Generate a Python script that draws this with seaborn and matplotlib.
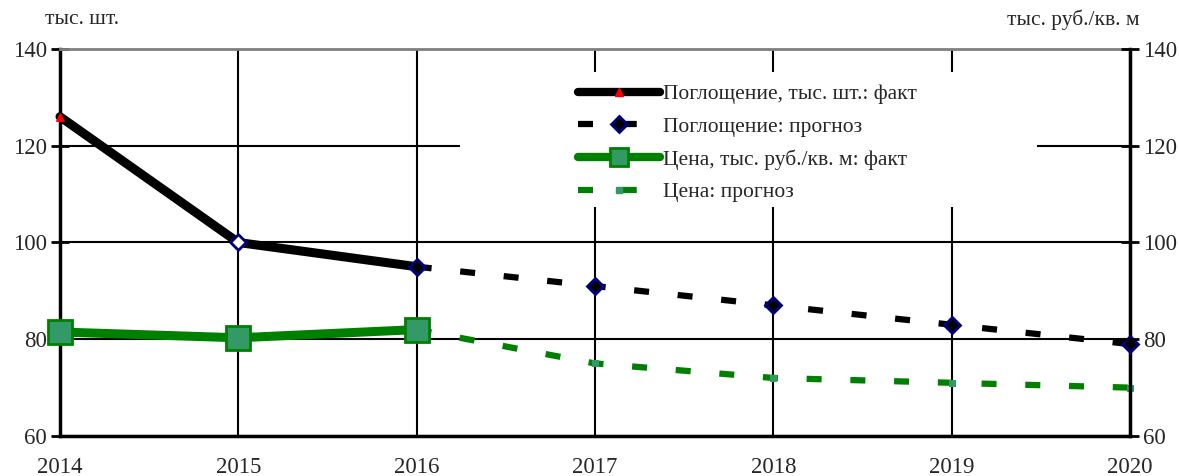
import matplotlib
matplotlib.use("Agg")
import matplotlib.pyplot as plt
import seaborn as sns
from matplotlib.lines import Line2D
from matplotlib.patches import Rectangle

# data
years_fact = [2014, 2015, 2016]
years_fc = [2016, 2017, 2018, 2019, 2020]
absorb_fact = [126, 100, 95]
absorb_fc = [95, 91, 87, 83, 79]
price_fact = [81.5, 80.3, 82]
price_fc = [82, 75, 72, 71, 70]
year_ticks = [2014, 2015, 2016, 2017, 2018, 2019, 2020]
y_ticks = [60, 80, 100, 120, 140]

labels = ["Поглощение, тыс. шт.: факт", "Поглощение: прогноз",
          "Цена, тыс. руб./кв. м: факт", "Цена: прогноз"]

sns.set_style("white")
plt.rcParams["font.family"] = ["Liberation Serif", "DejaVu Serif"]
plt.rcParams["font.size"] = 15.5

fig = plt.figure(figsize=(11.79, 4.76), dpi=100)
ax = fig.add_axes([60 / 1179, 1 - 436 / 476, 1070 / 1179, 387 / 476])

ax.set_axisbelow(True)
ax.grid(True, color="black", linewidth=1.5)
ax.add_patch(Rectangle((0.374, 0.592), 0.539, 0.349, transform=ax.transAxes,
                       facecolor="white", edgecolor="none", zorder=1))

green = "#008000"
sea = "#339966"
navy = "#000080"
dash = (0, (2.4, 4.6))

sns.lineplot(x=years_fact, y=absorb_fact, ax=ax, color="black", linewidth=6.5,
             marker="^", markevery=[0], markersize=6, markerfacecolor="red",
             markeredgecolor="red", zorder=3, clip_on=False)
sns.lineplot(x=years_fc, y=absorb_fc, ax=ax, color="black", linewidth=4.5,
             linestyle=dash, marker="D", markersize=8,
             markerfacecolor="black", markeredgecolor=navy, markeredgewidth=2,
             zorder=3, clip_on=False)
sns.scatterplot(x=years_fact[1:2], y=absorb_fact[1:2], ax=ax, marker="D", s=64,
                facecolor="white", edgecolor=navy, linewidth=2, zorder=4)
sns.lineplot(x=years_fact, y=price_fact, ax=ax, color=green, linewidth=6.5,
             marker="s", markersize=17, markerfacecolor=sea,
             markeredgecolor=green, markeredgewidth=2, zorder=3, clip_on=False)
sns.lineplot(x=years_fc, y=price_fc, ax=ax, color=green, linewidth=4.5,
             linestyle=dash, marker="s", markersize=5,
             markerfacecolor=sea, markeredgecolor=sea, zorder=2.5, clip_on=False)

ax.set_xlim(2014, 2020)
ax.set_ylim(60, 140)
ax.set_xticks(year_ticks)
ax.set_yticks(y_ticks)
ax.tick_params(axis="both", direction="inout", length=13, width=2,
               color="black", labelsize=16.5, pad=3)
ax.tick_params(axis="x", direction="out", length=7, pad=8)
ax.set_xlabel("")
ax.set_ylabel("")
for side in ["left", "bottom", "right"]:
    ax.spines[side].set_color("black")
    ax.spines[side].set_linewidth(2.5)
ax.spines["top"].set_color("#808080")
ax.spines["top"].set_linewidth(2)

ax2 = ax.twinx()
ax2.set_ylim(60, 140)
ax2.set_yticks(y_ticks)
ax2.tick_params(axis="y", direction="inout", length=13, width=2,
                color="black", labelsize=16.5, pad=3)
for side in ["left", "bottom", "right", "top"]:
    ax2.spines[side].set_visible(False)

fig.text(45 / 1179, 1 - 20 / 476, "тыс. шт.", fontsize=15.5, va="center", ha="left")
fig.text(1140 / 1179, 1 - 20 / 476, "тыс. руб./кв. м", fontsize=15.5,
         va="center", ha="right")

handles = [
    Line2D([], [], color="black", linewidth=6, marker="^", markersize=6,
           markerfacecolor="red", markeredgecolor="red"),
    Line2D([], [], color="black", linewidth=4.5, linestyle=dash,
           marker="D", markersize=8, markerfacecolor="black",
           markeredgecolor=navy, markeredgewidth=2),
    Line2D([], [], color=green, linewidth=6, marker="s", markersize=13,
           markerfacecolor=sea, markeredgecolor=green, markeredgewidth=2),
    Line2D([], [], color=green, linewidth=4.5, linestyle=dash,
           marker="s", markersize=5, markerfacecolor=sea, markeredgecolor=sea),
]
fig.legend(handles, labels, loc="upper left", bbox_to_anchor=(578 / 1179, 1 - 84 / 476),
           bbox_transform=fig.transFigure, frameon=False, fontsize=15.5,
           handlelength=3.8, handletextpad=0.15, labelspacing=0.58,
           borderpad=0, borderaxespad=0)

fig.savefig("out.png", dpi=100)
